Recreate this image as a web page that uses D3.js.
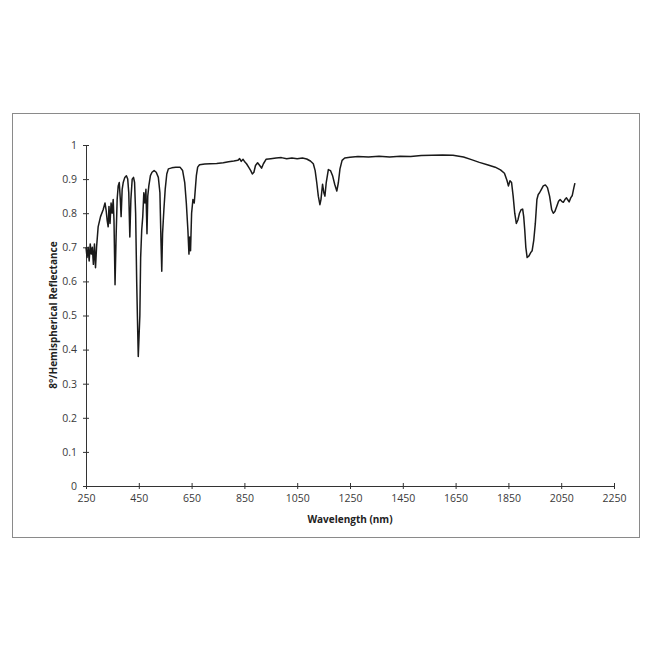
<!DOCTYPE html>
<html lang="en">
<head>
    <meta charset="UTF-8">
    <title>Reflectance Spectrum</title>
    <script src="https://d3js.org/d3.v7.min.js"></script>
    <style>
        body { margin: 0; background: #fff; }
        .axis text { font-family: "Open Sans", "DejaVu Sans", sans-serif; font-size: 10.5px; fill: #3a3a3a; }
        .axis path, .axis line { stroke: #333; stroke-width: 1; }
        .title { font-family: "Open Sans", "DejaVu Sans", sans-serif; font-size: 10px; font-weight: bold; fill: #222; }
    </style>
</head>
<body>
    <svg id="chart"></svg>

    <script>
        // Spectrum: wavelength (nm) and reflectance
        const wavelengths = [
            250, 254, 258, 262, 266, 270, 274, 278, 282, 286, 290, 296, 305, 315, 322, 326, 330, 334, 337, 341,
            345, 349, 353, 356, 360, 364, 368, 372, 376, 380, 383, 387, 391, 397, 403, 408, 412, 416, 420, 425,
            430, 434, 438, 442, 446, 448, 451, 454, 457, 461, 465, 469, 473, 477, 481, 484, 488, 494, 500, 508,
            516, 524, 530, 534, 537, 540, 545, 550, 556, 562, 575, 590, 606, 616, 624, 630, 636, 640, 643, 646,
            650, 655, 660, 664, 668, 673, 680, 700, 720, 745, 770, 790, 810, 825, 832, 838, 845, 852, 858, 866,
            874, 880, 886, 892, 900, 908, 915, 922, 932, 950, 970, 990, 1010, 1030, 1050, 1070, 1086, 1100, 1111, 1118,
            1124, 1130, 1136, 1140, 1146, 1151, 1155, 1160, 1168, 1176, 1184, 1192, 1200, 1206, 1212, 1220, 1230, 1250, 1280, 1320,
            1360, 1400, 1440, 1480, 1520, 1560, 1600, 1640, 1680, 1710, 1740, 1770, 1800, 1820, 1835, 1845, 1850, 1856, 1862, 1868,
            1874, 1880, 1886, 1892, 1898, 1904, 1908, 1912, 1916, 1921, 1928, 1935, 1940, 1946, 1952, 1958, 1963, 1968, 1975, 1982,
            1990, 1998, 2006, 2014, 2020, 2026, 2033, 2040, 2046, 2052, 2058, 2064, 2070, 2076, 2080, 2086, 2092, 2098, 2102
        ];
        const reflectance = [
            0.70, 0.67, 0.70, 0.66, 0.71, 0.68, 0.70, 0.65, 0.71, 0.64, 0.70, 0.76, 0.79, 0.81, 0.83, 0.81, 0.78, 0.76, 0.82, 0.77,
            0.83, 0.80, 0.84, 0.78, 0.59, 0.73, 0.84, 0.88, 0.89, 0.84, 0.79, 0.87, 0.89, 0.905, 0.91, 0.90, 0.86, 0.73, 0.84, 0.90,
            0.905, 0.89, 0.80, 0.60, 0.45, 0.38, 0.44, 0.50, 0.67, 0.75, 0.79, 0.86, 0.83, 0.87, 0.74, 0.85, 0.88, 0.91, 0.92, 0.925,
            0.92, 0.905, 0.86, 0.72, 0.63, 0.74, 0.81, 0.87, 0.915, 0.93, 0.933, 0.935, 0.935, 0.925, 0.89, 0.83, 0.75, 0.68, 0.73, 0.69,
            0.80, 0.84, 0.83, 0.87, 0.91, 0.935, 0.942, 0.944, 0.945, 0.946, 0.948, 0.951, 0.953, 0.955, 0.96, 0.952, 0.958, 0.95, 0.945, 0.935,
            0.925, 0.915, 0.92, 0.94, 0.948, 0.94, 0.932, 0.945, 0.958, 0.96, 0.962, 0.963, 0.96, 0.962, 0.96, 0.962, 0.959, 0.953, 0.945, 0.925,
            0.89, 0.85, 0.825, 0.84, 0.885, 0.86, 0.85, 0.89, 0.928, 0.925, 0.91, 0.885, 0.865, 0.89, 0.93, 0.955, 0.962, 0.964, 0.966, 0.965,
            0.967, 0.965, 0.967, 0.966, 0.969, 0.970, 0.971, 0.970, 0.965, 0.957, 0.949, 0.942, 0.935, 0.927, 0.917, 0.895, 0.88, 0.895, 0.89, 0.85,
            0.80, 0.77, 0.78, 0.80, 0.81, 0.812, 0.79, 0.75, 0.70, 0.67, 0.675, 0.685, 0.69, 0.72, 0.77, 0.84, 0.855, 0.86, 0.87, 0.88,
            0.883, 0.875, 0.85, 0.81, 0.80, 0.805, 0.82, 0.835, 0.84, 0.835, 0.832, 0.84, 0.845, 0.838, 0.833, 0.845, 0.852, 0.875, 0.888
        ];
        const xTicks = [250, 450, 650, 850, 1050, 1250, 1450, 1650, 1850, 2050, 2250];
        const yTicks = [0, 0.1, 0.2, 0.3, 0.4, 0.5, 0.6, 0.7, 0.8, 0.9, 1];

        const spectrum = wavelengths.map((w, i) => ({ w: w, r: reflectance[i] }));

        // Chart setup
        const width = 650, height = 650;
        const svg = d3.select("#chart").attr("width", width).attr("height", height);

        // outer frame
        svg.append("rect")
            .attr("x", 12.5).attr("y", 113.5)
            .attr("width", 627).attr("height", 424)
            .attr("fill", "none")
            .attr("stroke", "#8a8a8a")
            .attr("stroke-width", 1);

        const x = d3.scaleLinear().domain([250, 2250]).range([86, 614]);
        const y = d3.scaleLinear().domain([0, 1]).range([486, 145]);

        const xAxis = svg.append("g")
            .attr("class", "axis")
            .attr("transform", "translate(0,486)")
            .call(d3.axisBottom(x).tickValues(xTicks).tickSize(3).tickSizeOuter(0).tickPadding(6).tickFormat(d3.format("d")));
        xAxis.selectAll(".tick line").attr("y1", -3).attr("y2", 3);

        const yAxis = svg.append("g")
            .attr("class", "axis")
            .attr("transform", "translate(86,0)")
            .call(d3.axisLeft(y).tickValues(yTicks).tickSize(3).tickSizeOuter(0).tickPadding(6).tickFormat(d => d));
        yAxis.selectAll(".tick line").attr("x1", -3).attr("x2", 3);

        // Spectrum line
        const line = d3.line()
            .x(d => x(d.w))
            .y(d => y(d.r));

        svg.append("path")
            .datum(spectrum)
            .attr("fill", "none")
            .attr("stroke", "#1a1a1a")
            .attr("stroke-width", 1.5)
            .attr("stroke-linejoin", "round")
            .attr("d", line);

        // Axis titles
        svg.append("text")
            .attr("class", "title")
            .attr("x", 350)
            .attr("y", 523)
            .attr("text-anchor", "middle")
            .text("Wavelength (nm)");

        svg.append("text")
            .attr("class", "title")
            .attr("transform", "translate(57,315) rotate(-90)")
            .attr("text-anchor", "middle")
            .text("8°/Hemispherical Reflectance");
    </script>
</body>
</html>
